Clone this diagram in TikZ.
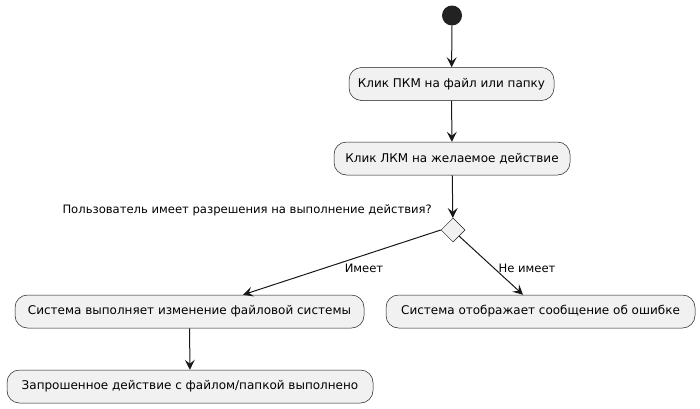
\documentclass[tikz,border=0pt]{standalone}
\usepackage{fontspec}
\setmainfont{DejaVu Sans}
\usetikzlibrary{arrows.meta,shapes.geometric}

\definecolor{line}{HTML}{181818}
\definecolor{actfill}{HTML}{F1F1F1}
\definecolor{startfill}{HTML}{222222}

\begin{document}
\begin{tikzpicture}[x=1pt,y=-1pt,
  act/.style={draw=line,fill=actfill,rounded corners=12.5pt,line width=0.5pt,
    minimum height=33pt,inner xsep=2pt,font=\fontsize{12}{14}\selectfont},
  flow/.style={draw=line,line width=1pt,-{Stealth[length=10pt,width=10pt,inset=4pt]}},
  lbl/.style={inner sep=0pt,font=\fontsize{11.6}{13}\selectfont}]

\useasboundingbox (0,0) rectangle (700,408);

% Start point
\node[circle,fill=startfill,minimum size=20pt,inner sep=0pt] (start) at (452,15.5) {};

% Activities
\node[act,minimum width=205pt] (pkm) at (451.5,84) {Клик ПКМ на файл или папку};
\node[act,minimum width=236pt] (lkm) at (452,158.5) {Клик ЛКМ на желаемое действие};

% Decision
\node[diamond,draw=line,fill=actfill,line width=0.5pt,minimum size=24pt,inner sep=0pt] (perm) at (453,230) {};
\node[lbl,anchor=east] (ask) at (432,210) {Пользователь имеет разрешения на выполнение действия?};

% Branches
\node[act,minimum width=349pt] (change) at (189.5,311.5) {Система выполняет изменение файловой системы};
\node[act,minimum width=309pt] (error) at (540.5,311.5) {Система отображает сообщение об ошибке};
\node[act,minimum width=366pt] (done) at (190,386.5) {Запрошенное действие с файлом/папкой выполнено};

% Arrows
\draw[flow] (start) -- (pkm);
\draw[flow] (pkm) -- (lkm);
\draw[flow] (lkm) -- (perm);
\draw[flow] (perm.west) -- ([xshift=53.5pt]change.north);
\draw[flow] (perm.south east) -- ([xshift=-17.5pt]error.north);
\draw[flow] (change) -- (done);

% Branch labels
\node[lbl] (yes) at (364,268) {Имеет};
\node[lbl] (no) at (527,268) {Не имеет};

\end{tikzpicture}
\end{document}
